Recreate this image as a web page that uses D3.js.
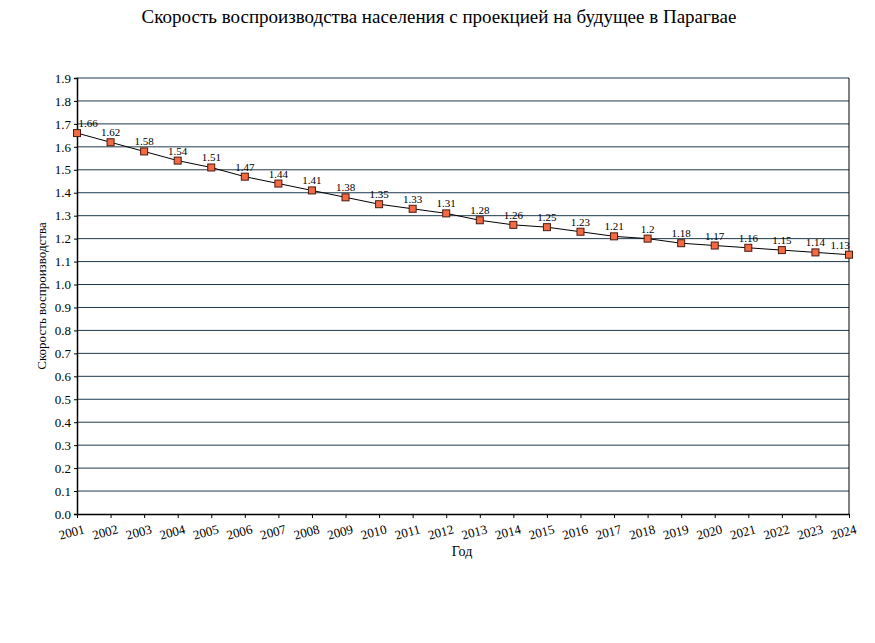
<!DOCTYPE html>
<html><head><meta charset="utf-8">
<script src="https://cdn.jsdelivr.net/npm/d3@7"></script>
<style>body{margin:0;background:#fff;} svg{display:block;font-family:"Liberation Serif","Times New Roman",serif;}</style>
</head><body>
<svg id="c" width="875" height="643"></svg>
<script>
const years = ["2001","2002","2003","2004","2005","2006","2007","2008","2009","2010","2011","2012","2013","2014","2015","2016","2017","2018","2019","2020","2021","2022","2023","2024"];
const rates = [1.66,1.62,1.58,1.54,1.51,1.47,1.44,1.41,1.38,1.35,1.33,1.31,1.28,1.26,1.25,1.23,1.21,1.2,1.18,1.17,1.16,1.15,1.14,1.13];
const yTicks = [0,0.1,0.2,0.3,0.4,0.5,0.6,0.7,0.8,0.9,1.0,1.1,1.2,1.3,1.4,1.5,1.6,1.7,1.8,1.9];
const title = "Скорость воспроизводства населения с проекцией на будущее в Парагвае";
const yTitle = "Скорость воспроизводства";
const xTitle = "Год";

const svg = d3.select("#c");
const L=77, R=849, T=78, B=514;
const x = d3.scalePoint().domain(years).range([L,R]);
const y = d3.scaleLinear().domain([0,1.9]).range([B,T]);

svg.append("text").attr("x",439).attr("y",23).attr("text-anchor","middle")
  .attr("font-size",19).attr("fill","#000").text(title);

// gridlines
svg.append("g").selectAll("line").data(yTicks.filter(d=>d>0)).join("line")
  .attr("x1",L).attr("x2",R).attr("y1",d=>y(d)).attr("y2",d=>y(d))
  .attr("stroke","#1f3a4d").attr("stroke-width",1);
// right border
svg.append("line").attr("x1",R).attr("x2",R).attr("y1",T).attr("y2",B).attr("stroke","#000").attr("stroke-width",1);

// y axis
const ya = svg.append("g").attr("transform",`translate(${L},0)`)
  .call(d3.axisLeft(y).tickValues(yTicks).tickFormat(d3.format(".1f")).tickSize(3).tickPadding(3));
ya.select(".domain").attr("stroke","#000").attr("stroke-width",1.5);
ya.selectAll("text").attr("font-size",13).attr("font-family","Liberation Serif, serif").attr("fill","#000");

// x axis
const xa = svg.append("g").attr("transform",`translate(0,${B})`)
  .call(d3.axisBottom(x).tickSize(4).tickSizeOuter(0));
xa.select(".domain").attr("stroke","#000").attr("stroke-width",1.5);
xa.selectAll("text").attr("font-size",13).attr("font-family","Liberation Serif, serif").attr("fill","#000")
  .attr("text-anchor","end").attr("transform","translate(3,1) rotate(-15)").attr("dy","0.9em");

// line
svg.append("path").datum(rates).attr("fill","none").attr("stroke","#000").attr("stroke-width",1)
  .attr("d",d3.line().x((d,i)=>x(years[i])).y(d=>y(d)));

// markers
svg.append("g").selectAll("rect").data(rates).join("rect")
  .attr("x",(d,i)=>x(years[i])-3.5).attr("y",d=>y(d)-3.5).attr("width",7).attr("height",7)
  .attr("fill","#f26b45").attr("stroke","#4a1a10").attr("stroke-width",1);

// labels
svg.append("g").selectAll("text").data(rates).join("text")
  .attr("x",(d,i)=>Math.min(Math.max(x(years[i]),L+11),R-9)).attr("y",d=>y(d)-6)
  .attr("text-anchor","middle").attr("font-size",11).attr("fill","#000")
  .text(d=>String(d));

svg.append("text").attr("transform",`translate(46,296) rotate(-90)`).attr("text-anchor","middle")
  .attr("font-size",13).attr("fill","#000").text(yTitle);
svg.append("text").attr("x",462).attr("y",556).attr("text-anchor","middle")
  .attr("font-size",14).attr("fill","#000").text(xTitle);
</script>
</body></html>
